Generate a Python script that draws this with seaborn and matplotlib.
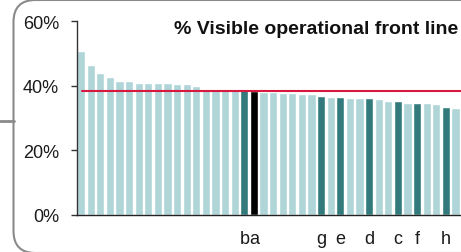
import matplotlib
matplotlib.use("Agg")
from matplotlib import pyplot as plt
from matplotlib.patches import FancyBboxPatch
from matplotlib.lines import Line2D
from matplotlib.transforms import IdentityTransform
import seaborn as sns
import pandas as pd

# bar values (%), sorted high to low
values = [50.9, 46.6, 44.0, 42.7, 41.4, 41.4, 41.0, 41.0, 40.8, 40.8,
          40.6, 40.6, 39.9, 39.1, 39.0, 38.7, 38.6, 38.6, 38.3, 38.0,
          38.0, 37.9, 37.8, 37.5, 37.5, 37.0, 36.6, 36.6, 36.3, 36.3,
          36.1, 35.9, 35.4, 35.4, 34.7, 34.7, 34.7, 34.3, 33.5, 33.0]
# labels shown under the highlighted bars
labels = [""] * 40
labels[17], labels[18] = "b", "a"
labels[25], labels[27], labels[30] = "g", "e", "d"
labels[33], labels[35], labels[38] = "c", "f", "h"
# colour group of each bar
groups = ["other"] * 40
for i in [17, 25, 27, 30, 33, 35, 38]:
    groups[i] = "peer"
groups[18] = "self"
average = 38.3

df = pd.DataFrame({"pos": range(40), "value": values, "group": groups})
palette = {"other": "#afd5d8", "peer": "#327a7b", "self": "#000000"}

sns.set_theme(style="white")
plt.rcParams["font.family"] = ["Liberation Sans", "DejaVu Sans"]

fig = plt.figure(figsize=(4.61, 2.53), dpi=100)
ax = fig.add_axes([77 / 461, 37 / 253, 384 / 461, 193.7 / 253])

sns.barplot(data=df, x="pos", y="value", hue="group", palette=palette,
            dodge=False, width=0.84, legend=False, saturation=1, ax=ax)

ax.axhline(average, xmin=0.012, xmax=1, color="#d7193f", lw=1.5)

ax.set_xlim(-0.43, 39.57)
ax.set_ylim(0, 60)
ax.set_yticks([0, 20, 40, 60])
ax.set_yticklabels(["0%", "20%", "40%", "60%"])
ax.set_xticks(range(40))
ax.set_xticklabels(labels)
ax.set_xlabel("")
ax.set_ylabel("")
ax.tick_params(axis="y", left=True, length=4, width=1, color="#333333",
               pad=9, labelsize=13, labelcolor="#1a1a1a")
ax.tick_params(axis="x", bottom=False, length=0, pad=11, labelsize=13,
               labelcolor="#1a1a1a")
for s in ["top", "right"]:
    ax.spines[s].set_visible(False)
ax.spines["left"].set_color("#333333")
ax.spines["bottom"].set_color("#222222")
ax.spines["left"].set_linewidth(1)
ax.spines["bottom"].set_linewidth(1)

fig.text(458 / 461, (253 - 34) / 253, "% Visible operational front line",
         ha="right", va="baseline", fontsize=14, fontweight="bold",
         color="#111111")

# rounded frame around the panel, open on the right
frame = FancyBboxPatch((13.5, -1), 470, 253, boxstyle="round,pad=0,rounding_size=22",
                       fill=False, edgecolor="#8a8a8a", lw=1.5,
                       transform=IdentityTransform())
fig.add_artist(frame)
fig.add_artist(Line2D([0, 13.5], [253 - 122, 253 - 122], color="#8a8a8a",
                      lw=2, transform=IdentityTransform()))

fig.savefig("out.png", dpi=100)
